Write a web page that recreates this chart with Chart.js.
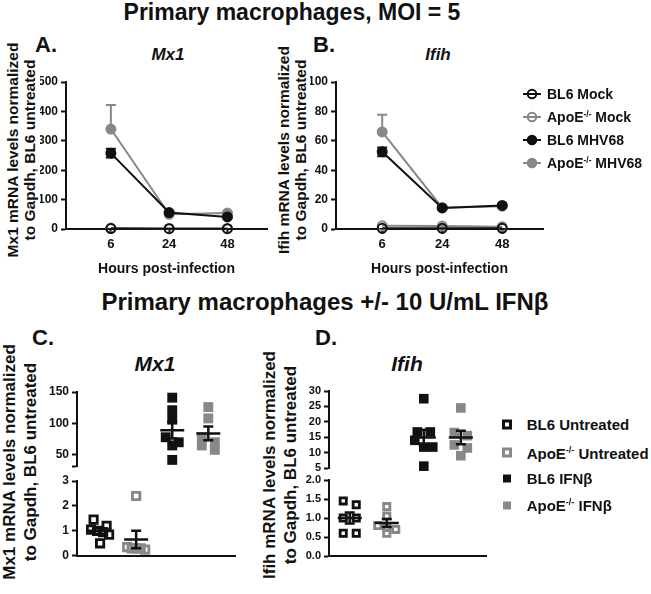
<!DOCTYPE html>
<html><head><meta charset="utf-8">
<script src="https://cdn.jsdelivr.net/npm/chart.js@4.4.1/dist/chart.umd.min.js"></script>
<style>
html,body{margin:0;padding:0;background:#fff;}
#root{position:relative;width:651px;height:594px;overflow:hidden;background:#fff;font-family:"Liberation Sans",Arial,sans-serif;font-weight:bold;color:#111;}
canvas{position:absolute;}
.t{position:absolute;white-space:nowrap;line-height:1;transform:translate(-50%,-50%);}
.lab{position:absolute;white-space:nowrap;line-height:1;transform:translate(0,-50%);}
.yt{position:absolute;white-space:nowrap;text-align:center;transform:translate(-50%,-50%) rotate(-90deg);}
sup{font-size:0.6em;vertical-align:0.6em;line-height:0;}
.leg{position:absolute;display:flex;align-items:center;white-space:nowrap;transform:translate(0,-50%);}
.leg svg{flex:none;}
</style></head><body><div id="root">

<div class="t" style="left:292px;top:12px;font-size:23px;">Primary macrophages, MOI = 5</div>
<div class="t" style="left:325px;top:302px;font-size:24px;">Primary macrophages +/- 10 U/mL IFNβ</div>

<div class="lab" style="left:35px;top:45px;font-size:22px;">A.</div>
<div class="lab" style="left:313px;top:45px;font-size:22px;">B.</div>
<div class="lab" style="left:32px;top:338px;font-size:22px;">C.</div>
<div class="lab" style="left:315px;top:338px;font-size:22px;">D.</div>

<div class="t" style="left:168px;top:54px;font-size:17px;font-style:italic;">Mx1</div>
<div class="t" style="left:438px;top:54px;font-size:17px;font-style:italic;">Ifih</div>
<div class="t" style="left:155px;top:363px;font-size:21px;font-style:italic;">Mx1</div>
<div class="t" style="left:407px;top:363px;font-size:21px;font-style:italic;">Ifih</div>

<div class="yt" style="left:20.5px;top:150px;font-size:15.5px;line-height:17px;">Mx1 mRNA levels normalized<br>to Gapdh, BL6 untreated</div>
<div class="yt" style="left:292px;top:150px;font-size:15.5px;line-height:17px;">Ifih mRNA levels normalized<br>to Gapdh, BL6 untreated</div>
<div class="yt" style="left:19.5px;top:462px;font-size:17px;line-height:21px;">Mx1 mRNA levels normalized<br>to Gapdh, BL6 untreated</div>
<div class="yt" style="left:279.5px;top:465px;font-size:17px;line-height:21px;">Ifih mRNA levels normalized<br>to Gapdh, BL6 untreated</div>

<canvas id="cA" width="275" height="209" style="left:0px;top:70px;"></canvas>
<canvas id="cB" width="281" height="209" style="left:270px;top:70px;"></canvas>
<canvas id="cCu" width="243" height="97" style="left:0px;top:380px;"></canvas>
<canvas id="cCl" width="243" height="96" style="left:0px;top:470px;"></canvas>
<canvas id="cDu" width="214" height="98" style="left:280px;top:380px;"></canvas>
<canvas id="cDl" width="214" height="96" style="left:280px;top:470px;"></canvas>

<div id="legB"></div>
<div id="legD"></div>

</div>
<script>
// ---------- data: panels A / B ----------
const hours = ['6', '24', '48'];
const mx1BL6Mock = [1.5, 1, 1];
const mx1ApoEMock = [3, 2, 2];
const mx1BL6MHV68 = [258, 56, 41];
const mx1BL6MHV68Sem = [15, 4, 3];
const mx1ApoEMHV68 = [340, 50, 54];
const mx1ApoEMHV68Sem = [82, 4, 4];
const ifihBL6Mock = [0.5, 0.5, 0.5];
const ifihApoEMock = [2.2, 2, 1.5];
const ifihBL6MHV68 = [52.5, 14.3, 16];
const ifihBL6MHV68Sem = [3, 0.8, 0.8];
const ifihApoEMHV68 = [66, 14.5, 15.5];
const ifihApoEMHV68Sem = [11.7, 1, 1];
const mx1TicksAB = [0, 100, 200, 300, 400, 500];
const ifihTicksAB = [0, 20, 40, 60, 80, 100];
const seriesAB = ['BL6 Mock', 'ApoE-/- Mock', 'BL6 MHV68', 'ApoE-/- MHV68'];

// ---------- data: panels C / D ----------
const groupsCD = ['BL6 Untreated', 'ApoE-/- Untreated', 'BL6 IFNβ', 'ApoE-/- IFNβ'];
const mx1BL6Untr = [1.45, 1.2, 1.05, 1.0, 0.95, 0.85, 0.5];
const mx1ApoEUntr = [2.4, 0.35, 0.3, 0.3, 0.25, 0.3];
const mx1BL6IFN = [141, 121, 106, 78, 70, 65, 42];
const mx1ApoEIFN = [126, 108, 78, 70, 65, 58];
const ifihBL6Untr = [1.45, 1.35, 1.0, 1.0, 0.6, 0.6];
const ifihApoEUntr = [1.3, 1.05, 0.8, 0.75, 0.7, 0.6];
const ifihBL6IFN = [27.5, 16.7, 16.7, 14, 11.8, 11.8, 5.6];
const ifihApoEIFN = [24.5, 16.5, 15.5, 12.5, 11.5, 9];
const mx1UpperRange = [31, 150];
const mx1UpperTicks = [50, 100, 150];
const mx1LowerTicks = [0, 1, 2, 3];
const ifihUpperTicks = [5, 10, 15, 20, 25, 30];
const ifihLowerTicks = [0, 0.5, 1, 1.5, 2];

// ---------- styles ----------
const FONT = '"Liberation Sans", Arial, sans-serif';
const BLACK = '#111111';
const GREY = '#8a8784';

const errorBars = {
  id: 'errorBars',
  beforeDatasetsDraw(chart) {
    const ctx = chart.ctx, xs = chart.scales.x, ys = chart.scales.y;
    chart.data.datasets.forEach(ds => {
      if (!ds.sem) return;
      ctx.save();
      ctx.strokeStyle = ds.borderColor; ctx.lineWidth = 2;
      ds.data.forEach((p, i) => {
        const e = ds.sem[i];
        if (!e) return;
        const x = xs.getPixelForValue(p.x);
        const y0 = ys.getPixelForValue(p.y);
        const yt = ys.getPixelForValue(p.y + e);
        const yb = ds.errDir === 'up' ? y0 : ys.getPixelForValue(p.y - e);
        ctx.beginPath();
        ctx.moveTo(x, yb); ctx.lineTo(x, yt);
        ctx.moveTo(x - 5, yt); ctx.lineTo(x + 5, yt);
        if (ds.errDir !== 'up') { ctx.moveTo(x - 5, yb); ctx.lineTo(x + 5, yb); }
        ctx.stroke();
      });
      ctx.restore();
    });
  }
};

const meanSem = {
  id: 'meanSem',
  afterDatasetsDraw(chart) {
    const ctx = chart.ctx, xs = chart.scales.x, ys = chart.scales.y;
    chart.data.datasets.forEach(ds => {
      const v = ds.values, n = v.length;
      const m = v.reduce((a, b) => a + b, 0) / n;
      const sd = Math.sqrt(v.reduce((a, b) => a + (b - m) * (b - m), 0) / (n - 1));
      const se = sd / Math.sqrt(n);
      const cx = xs.getPixelForValue(ds.group);
      const ym = ys.getPixelForValue(m), yt = ys.getPixelForValue(m + se), yb = ys.getPixelForValue(m - se);
      ctx.save();
      ctx.strokeStyle = BLACK; ctx.lineWidth = 2.5;
      ctx.beginPath();
      ctx.moveTo(cx - 12, ym); ctx.lineTo(cx + 12, ym);
      ctx.moveTo(cx, yt); ctx.lineTo(cx, yb);
      ctx.moveTo(cx - 5, yt); ctx.lineTo(cx + 5, yt);
      ctx.moveTo(cx - 5, yb); ctx.lineTo(cx + 5, yb);
      ctx.stroke();
      ctx.restore();
    });
  }
};

const xy = arr => arr.map((v, i) => ({ x: i, y: v }));

function lineDs(label, values, color, filled, sem, errDir) {
  return {
    label, data: xy(values), sem, errDir,
    borderColor: color, backgroundColor: filled ? color : 'transparent',
    pointBorderColor: color, pointBackgroundColor: filled ? color : 'rgba(0,0,0,0)',
    pointRadius: 4.5, pointBorderWidth: 2, borderWidth: 2, clip: false, tension: 0
  };
}

function yAxis(min, max, ticks, width, size, fmt) {
  const all = ticks.includes(min) ? ticks.slice() : [min].concat(ticks);
  return {
    type: 'linear', min, max,
    afterBuildTicks: a => { a.ticks = all.map(v => ({ value: v })); },
    afterFit: a => { a.width = width; },
    grid: { display: true, drawOnChartArea: false, drawTicks: true, tickLength: 5, tickWidth: 2, tickColor: BLACK },
    border: { display: true, color: BLACK, width: 2 },
    ticks: { autoSkip: false, font: { family: FONT, size, weight: 'bold' }, color: BLACK, padding: 3,
      callback: v => ticks.includes(v) ? fmt(v) : '' }
  };
}

function timeChart(id, dsets, yMin, yMax, yTicks) {
  return new Chart(document.getElementById(id), {
    type: 'line',
    data: { datasets: dsets },
    options: {
      responsive: false, animation: false, events: [],
      layout: { padding: { left: 40, right: 8, top: 12, bottom: 0 } },
      plugins: { legend: { display: false }, tooltip: { enabled: false } },
      scales: {
        x: {
          type: 'linear', min: -0.77, max: 2.68,
          afterBuildTicks: a => { a.ticks = hours.map((h, i) => ({ value: i })); },
          afterFit: a => { a.height = 50; },
          grid: { display: true, drawOnChartArea: false, drawTicks: true, tickLength: 5, tickWidth: 2, tickColor: BLACK },
          border: { display: true, color: BLACK, width: 2 },
          ticks: { autoSkip: false, maxRotation: 0, padding: 3, color: BLACK,
            font: { family: FONT, size: 13, weight: 'bold' }, callback: v => hours[v] },
          title: { display: true, text: 'Hours post-infection', color: BLACK,
            font: { family: FONT, size: 14, weight: 'bold' }, padding: { top: 0, bottom: 1 } }
        },
        y: yAxis(yMin, yMax, yTicks, 26, 12, v => String(v))
      }
    },
    plugins: [errorBars]
  });
}

timeChart('cA', [
  lineDs(seriesAB[0], mx1BL6Mock, BLACK, false),
  lineDs(seriesAB[1], mx1ApoEMock, GREY, false),
  lineDs(seriesAB[2], mx1BL6MHV68, BLACK, true, mx1BL6MHV68Sem, 'both'),
  lineDs(seriesAB[3], mx1ApoEMHV68, GREY, true, mx1ApoEMHV68Sem, 'up')
], 0, 500, mx1TicksAB);

timeChart('cB', [
  lineDs(seriesAB[0], ifihBL6Mock, BLACK, false),
  lineDs(seriesAB[1], ifihApoEMock, GREY, false),
  lineDs(seriesAB[2], ifihBL6MHV68, BLACK, true, ifihBL6MHV68Sem, 'both'),
  lineDs(seriesAB[3], ifihApoEMHV68, GREY, true, ifihApoEMHV68Sem, 'up')
], 0, 100, ifihTicksAB);

// ---------- dot plots ----------
function dotDs(label, group, values, color, open, r) {
  return {
    label, group, values, data: values.map(v => ({ x: group, y: v })),
    pointStyle: 'rect', pointRadius: open ? r : r + 1.8,
    pointBorderWidth: open ? 2.8 : 0,
    pointBorderColor: color, pointBackgroundColor: open ? 'rgba(0,0,0,0)' : color,
    borderColor: color, backgroundColor: color, clip: false
  };
}

function swarm(chart, step, thresh, maxHalf) {
  const xs = chart.scales.x, ys = chart.scales.y;
  const pxPerUnit = xs.getPixelForValue(1) - xs.getPixelForValue(0);
  chart.data.datasets.forEach(ds => {
    const pts = ds.values.map(v => ({ v, py: ys.getPixelForValue(v) })).sort((a, b) => a.py - b.py);
    const bins = [];
    pts.forEach(p => {
      const last = bins[bins.length - 1];
      if (last && p.py - last[0].py < thresh) last.push(p); else bins.push([p]);
    });
    const out = [];
    bins.forEach(b => {
      const n = b.length;
      const s = n > 1 ? Math.min(step, 2 * maxHalf / (n - 1)) : 0;
      b.forEach((p, i) => out.push({ x: ds.group + (i - (n - 1) / 2) * s / pxPerUnit, y: p.v }));
    });
    ds.data = out;
  });
  chart.update('none');
}

function dotChart(id, dsets, yMin, yMax, yTicks, xMin, xMax, showX, padLeft, padTop, tickSize, fmt) {
  const ch = new Chart(document.getElementById(id), {
    type: 'scatter',
    data: { datasets: dsets },
    options: {
      responsive: false, animation: false, events: [],
      layout: { padding: { left: padLeft, right: 8, top: padTop, bottom: 10 } },
      plugins: { legend: { display: false }, tooltip: { enabled: false } },
      scales: {
        x: {
          type: 'linear', min: xMin, max: xMax, display: showX,
          afterFit: a => { a.height = 0; },
          grid: { display: false }, ticks: { display: false },
          border: { display: true, color: BLACK, width: 2 }
        },
        y: yAxis(yMin, yMax, yTicks, 30, tickSize, fmt)
      }
    },
    plugins: [meanSem]
  });
  swarm(ch, 13, 7, 9);
  return ch;
}

const intFmt = v => String(v);
const decFmt = v => v.toFixed(1);

dotChart('cCu', [
  dotDs(groupsCD[2], 2, mx1BL6IFN, BLACK, false, 5.2),
  dotDs(groupsCD[3], 3, mx1ApoEIFN, GREY, false, 5.2)
], mx1UpperRange[0], mx1UpperRange[1], mx1UpperTicks, -0.64, 3.74, false, 47, 12, 12, intFmt);

dotChart('cCl', [
  dotDs(groupsCD[0], 0, mx1BL6Untr, BLACK, true, 5.2),
  dotDs(groupsCD[1], 1, mx1ApoEUntr, GREY, true, 5.2)
], 0, 3, mx1LowerTicks, -0.64, 3.74, true, 47, 11, 12, intFmt);

dotChart('cDu', [
  dotDs(groupsCD[2], 2, ifihBL6IFN, BLACK, false, 5),
  dotDs(groupsCD[3], 3, ifihApoEIFN, GREY, false, 5)
], 5, 30, ifihUpperTicks, -0.56, 3.68, false, 19, 11, 11, intFmt);

dotChart('cDl', [
  dotDs(groupsCD[0], 0, ifihBL6Untr, BLACK, true, 4.4),
  dotDs(groupsCD[1], 1, ifihApoEUntr, GREY, true, 4.4)
], 0, 2, ifihLowerTicks, -0.56, 3.68, true, 19, 10, 11, decFmt);

// ---------- legends ----------
function labelHtml(s) {
  return s.replace('-/-', '<sup>-/-</sup>');
}
const legB = document.getElementById('legB');
const legBy = [94.3, 117.3, 140, 162.7];
const legBstyle = [[BLACK, false], [GREY, false], [BLACK, true], [GREY, true]];
seriesAB.forEach((s, i) => {
  const [c, f] = legBstyle[i];
  const d = document.createElement('div');
  d.className = 'leg';
  d.style.left = '523px'; d.style.top = legBy[i] + 'px'; d.style.fontSize = '14px';
  d.innerHTML = `<svg width="18" height="12" viewBox="0 0 18 12"><line x1="0" y1="6" x2="18" y2="6" stroke="${c}" stroke-width="2"/><circle cx="9" cy="6" r="4.3" fill="${f ? c : 'none'}" stroke="${c}" stroke-width="2"/></svg><span style="margin-left:6px">${labelHtml(s)}</span>`;
  legB.appendChild(d);
});
const legD = document.getElementById('legD');
const legDy = [424.3, 452.7, 478.3, 505];
const legDstyle = [[BLACK, false], [GREY, false], [BLACK, true], [GREY, true]];
groupsCD.forEach((s, i) => {
  const [c, f] = legDstyle[i];
  const d = document.createElement('div');
  d.className = 'leg';
  d.style.left = '500.7px'; d.style.top = legDy[i] + 'px'; d.style.fontSize = '15px';
  const mark = f
    ? `<rect x="2" y="2" width="8" height="8" fill="${c}"/>`
    : `<rect x="2.5" y="2.5" width="7" height="7" fill="none" stroke="${c}" stroke-width="3"/>`;
  d.innerHTML = `<svg width="12" height="12" viewBox="0 0 12 12">${mark}</svg><span style="margin-left:14px">${labelHtml(s)}</span>`;
  legD.appendChild(d);
});
</script>
</body></html>
